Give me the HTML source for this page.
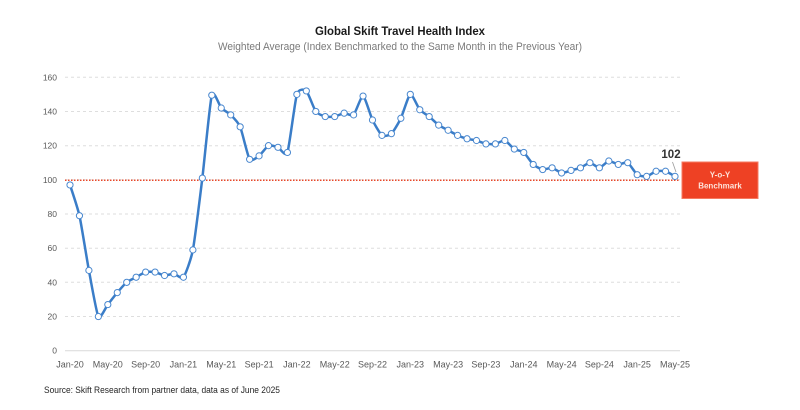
<!DOCTYPE html>
<html>
<head>
<meta charset="utf-8">
<style>
  html,body{margin:0;padding:0;background:#fff;}
  svg{display:block;}
  text{font-family:"Liberation Sans",sans-serif;}
</style>
</head>
<body>
<svg id="c" width="800" height="410" viewBox="0 0 800 410" xmlns="http://www.w3.org/2000/svg">
  <rect width="800" height="410" fill="#fff"/>
  <text x="400" y="35" text-anchor="middle" font-size="12" font-weight="bold" fill="#1a1a1a" textLength="170" lengthAdjust="spacingAndGlyphs">Global Skift Travel Health Index</text>
  <text x="400" y="50" text-anchor="middle" font-size="11" fill="#7a7a7a" textLength="364" lengthAdjust="spacingAndGlyphs">Weighted Average (Index Benchmarked to the Same Month in the Previous Year)</text>

  <g id="grid" stroke="#dedede" stroke-width="1" stroke-dasharray="3,3">
    <line x1="65" x2="680" y1="77.3" y2="77.3"/>
    <line x1="65" x2="680" y1="111.5" y2="111.5"/>
    <line x1="65" x2="680" y1="145.7" y2="145.7"/>
    <line x1="65" x2="680" y1="179.8" y2="179.8"/>
    <line x1="65" x2="680" y1="214.0" y2="214.0"/>
    <line x1="65" x2="680" y1="248.2" y2="248.2"/>
    <line x1="65" x2="680" y1="282.3" y2="282.3"/>
    <line x1="65" x2="680" y1="316.5" y2="316.5"/>
  </g>
  <line x1="65" x2="680" y1="350.7" y2="350.7" stroke="#d9d9d9" stroke-width="1"/>

  <g font-size="8.5" fill="#595959" text-anchor="end">
    <text x="57" y="80.3">160</text>
    <text x="57" y="114.5">140</text>
    <text x="57" y="148.7">120</text>
    <text x="57" y="182.8">100</text>
    <text x="57" y="217.0">80</text>
    <text x="57" y="251.2">60</text>
    <text x="57" y="285.3">40</text>
    <text x="57" y="319.5">20</text>
    <text x="57" y="353.7">0</text>
  </g>

  <g font-size="9" fill="#595959" text-anchor="middle">
    <text x="70" y="367.5">Jan-20</text>
    <text x="107.8" y="367.5">May-20</text>
    <text x="145.6" y="367.5">Sep-20</text>
    <text x="183.4" y="367.5">Jan-21</text>
    <text x="221.3" y="367.5">May-21</text>
    <text x="259.1" y="367.5">Sep-21</text>
    <text x="296.9" y="367.5">Jan-22</text>
    <text x="334.7" y="367.5">May-22</text>
    <text x="372.5" y="367.5">Sep-22</text>
    <text x="410.3" y="367.5">Jan-23</text>
    <text x="448.1" y="367.5">May-23</text>
    <text x="485.9" y="367.5">Sep-23</text>
    <text x="523.8" y="367.5">Jan-24</text>
    <text x="561.6" y="367.5">May-24</text>
    <text x="599.4" y="367.5">Sep-24</text>
    <text x="637.2" y="367.5">Jan-25</text>
    <text x="675" y="367.5">May-25</text>
  </g>

  <line x1="65" x2="680" y1="180.2" y2="180.2" stroke="#e8482a" stroke-width="1.5" stroke-dasharray="1.5,1.5"/>

  <path id="series" d="" fill="none" stroke="#3a7dc8" stroke-width="2.5" stroke-linejoin="round" stroke-linecap="round"/>
  <g id="markers"></g>

  <line x1="672.5" y1="162" x2="676" y2="172" stroke="#9a9a9a" stroke-width="0.8"/>
  <text x="671" y="158" text-anchor="middle" font-size="11.5" font-weight="bold" fill="#333">102</text>

  <rect x="682" y="162" width="76" height="36.5" fill="#ee4124" stroke="#f57a60" stroke-width="1"/>
  <text x="720" y="177.5" text-anchor="middle" font-size="8" font-weight="bold" fill="#fde3db">Y-o-Y</text>
  <text x="720" y="188.5" text-anchor="middle" font-size="8" font-weight="bold" fill="#fde3db">Benchmark</text>

  <text x="44" y="393" font-size="9" fill="#262626" textLength="236" lengthAdjust="spacingAndGlyphs">Source: Skift Research from partner data, data as of June 2025</text>
</svg>
<script>
(function(){
  var v=[97,79,47,20,27,34,40,43,46,46,44,45,43,59,101,149.5,142,138,131,112,114,120,119,116,150,152,140,137,137,139,138,149,135,126,127,136,150,141,137,132,129,126,124,123,121,121,123,118,116,109,106,107,104,105.5,107,110,107,111,109,110,103,102,105,105,102];
  var pts=v.map(function(val,i){return [70+i*605/64, 350.7-val*1.709];});
  var d="M"+pts[0][0].toFixed(2)+","+pts[0][1].toFixed(2);
  var t=0.1;
  for(var i=0;i<pts.length-1;i++){
    var p0=pts[i-1]||pts[i], p1=pts[i], p2=pts[i+1], p3=pts[i+2]||pts[i+1];
    var c1x=p1[0]+(p2[0]-p0[0])*t, c1y=p1[1]+(p2[1]-p0[1])*t;
    var c2x=p2[0]-(p3[0]-p1[0])*t, c2y=p2[1]-(p3[1]-p1[1])*t;
    d+=" C"+c1x.toFixed(2)+","+c1y.toFixed(2)+" "+c2x.toFixed(2)+","+c2y.toFixed(2)+" "+p2[0].toFixed(2)+","+p2[1].toFixed(2);
  }
  document.getElementById("series").setAttribute("d",d);
  var g=document.getElementById("markers"), ns="http://www.w3.org/2000/svg";
  pts.forEach(function(p){
    var c=document.createElementNS(ns,"circle");
    c.setAttribute("cx",p[0]);c.setAttribute("cy",p[1]);c.setAttribute("r","3.1");
    c.setAttribute("fill","#fff");c.setAttribute("stroke","#4a88cf");c.setAttribute("stroke-width","1");
    g.appendChild(c);
  });
})();
</script>
</body>
</html>
